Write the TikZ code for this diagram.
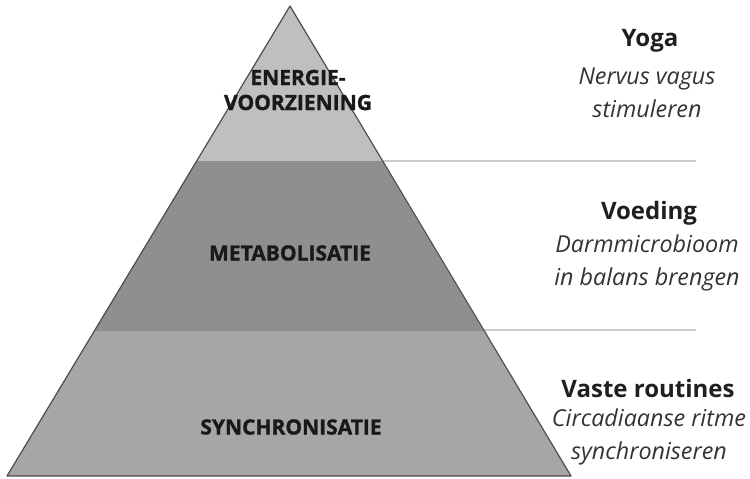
\documentclass[tikz,border=0pt]{standalone}
\usepackage{fontspec}
\setmainfont{Open Sans}
\newfontfamily\heavyfont{Open Sans}[BoldFeatures={FakeBold=1.2}]
\begin{document}
\begin{tikzpicture}[x=1pt,y=-1pt,
  outline/.style={draw=black!70,line width=1.2pt,line join=round},
  divider/.style={draw=black!45,line width=1pt},
  sideline/.style={draw=black!20,line width=2pt},
  plabel/.style={font=\fontsize{21}{25}\heavyfont\bfseries,text=black!90,align=center,inner sep=0pt},
  head/.style={font=\fontsize{24}{28}\selectfont\bfseries,text=black!88,inner sep=0pt},
  sub/.style={font=\fontsize{23.3}{33}\selectfont\itshape,text=black!80,align=center,inner sep=0pt}]
\useasboundingbox (0,0) rectangle (750,479);
% corners
\coordinate (apex) at (290,6);
\coordinate (bl) at (7,476);
\coordinate (br) at (571,476);
\coordinate (l1) at (197,161);
\coordinate (r1) at (382,161);
\coordinate (l2) at (95,330);
\coordinate (r2) at (483,330);
\coordinate (e1) at (696,161);
\coordinate (e2) at (696,330);
% layers
\fill[black!25] (apex) -- (r1) -- (l1) -- cycle;
\fill[black!44] (l1) -- (r1) -- (r2) -- (l2) -- cycle;
\fill[black!35] (l2) -- (r2) -- (br) -- (bl) -- cycle;
\draw[divider] (l1) -- (r1);
\draw[divider] (l2) -- (r2);
\draw[sideline] (r1) -- (e1);
\draw[sideline] (r2) -- (e2);
\draw[outline] (apex) -- (br) -- (bl) -- cycle;
% pyramid labels
\node[plabel] (t1) at (298,90) {ENERGIE-\\VOORZIENING};
\node[plabel] (t2) at (290,253) {METABOLISATIE};
\node[plabel] (t3) at (291,427) {SYNCHRONISATIE};
% right column
\node[head] (h1) at (650,41) {Yoga};
\node[sub] (s1) at (647,93) {Nervus vagus\\stimuleren};
\node[head] (h2) at (649,213) {Voeding};
\node[sub] (s2) at (647,263) {Darmmicrobioom\\in balans brengen};
\node[head] (h3) at (648,388) {Vaste routines};
\node[sub] (s3) at (649,437) {Circadiaanse ritme\\synchroniseren};
\end{tikzpicture}
\end{document}
